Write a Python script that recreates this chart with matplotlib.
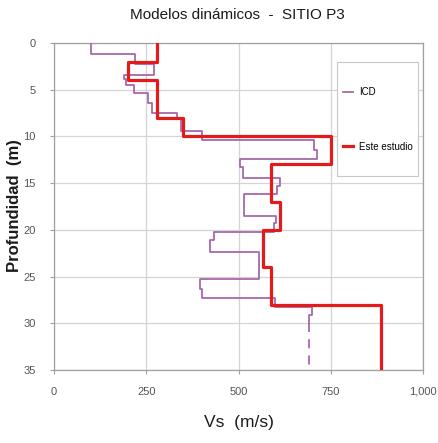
import matplotlib
matplotlib.use("Agg")
import matplotlib.pyplot as plt
from matplotlib.ticker import FuncFormatter
from matplotlib.patches import Rectangle

plt.rcParams['font.family'] = ['Liberation Sans', 'DejaVu Sans']

# ICD profile: layer boundaries (m) and Vs (m/s)
icd_depth = [0, 1.2, 2.2, 3.4, 3.9, 4.5, 5.4, 6.4, 7.5, 8.0, 9.4, 10.4, 11.5, 12.4,
             13.3, 14.4, 15.3, 16.2, 18.5, 19.3, 20.2, 21.1, 22.4, 25.3, 26.3, 27.3,
             28.3, 29.1, 30.0]
icd_vs = [100, 220, 272, 190, 196, 218, 255, 265, 333, 345, 400, 704, 712,
          504, 513, 612, 605, 515, 601, 595, 433, 424, 555, 395, 401, 600,
          698, 691]
icd_ext_depth = [30.0, 35.0]
icd_ext_vs = [691, 691]

# Este estudio profile
est_depth = [0, 2, 4, 8, 10, 13, 17, 20, 24, 28, 35]
est_vs = [280, 200, 280, 350, 750, 587, 612, 567, 587, 887]

x_ticks = [0, 250, 500, 750, 1000]
y_ticks = [0, 5, 10, 15, 20, 25, 30, 35]


def profile(depths, vs):
    xs, ys = [], []
    for i, v in enumerate(vs):
        xs += [v, v]
        ys += [depths[i], depths[i + 1]]
    return xs, ys


fig = plt.figure(figsize=(4.38, 4.43), dpi=100)
ax = fig.add_axes([0.1233, 0.1648, 0.8425, 0.7382])

purple = '#a868ac'
red = '#e31b1b'

xi, yi = profile(icd_depth, icd_vs)
ax.plot(xi, yi, color=purple, lw=1.3, label='ICD', zorder=3)
ax.plot(icd_ext_vs, icd_ext_depth, color=purple, lw=1.3, ls=(0, (5, 4)), zorder=3)

xe, ye = profile(est_depth, est_vs)
ax.plot(xe, ye, color=red, lw=2.3, label='Este estudio', zorder=4)

ax.set_xlim(0, 1000)
ax.set_ylim(35, 0)
ax.set_xticks(x_ticks)
ax.set_yticks(y_ticks)
ax.xaxis.set_major_formatter(FuncFormatter(lambda v, p: f"{int(v):,}"))
ax.grid(True, color='#d4d4d4', lw=0.9)
ax.set_axisbelow(True)
for s in ax.spines.values():
    s.set_color('#a0a0a0')
    s.set_linewidth(0.9)
ax.tick_params(axis='both', labelsize=8, colors='#555555', length=3,
               color='#a0a0a0')
ax.tick_params(axis='x', pad=9)
ax.tick_params(axis='y', pad=10)

fig.text(0.5445, 0.0474, 'Vs  (m/s)', ha='center', va='center',
         fontsize=12.5, color='#1a1a1a')
fig.text(0.034, 0.537, 'Profundidad  (m)', ha='center', va='center',
         rotation=90, fontsize=12, fontweight='bold', color='#1a1a1a')
fig.text(0.541, 0.966, 'Modelos dinámicos  -  SITIO P3', ha='center', va='center',
         fontsize=11, color='#1a1a1a')

# legend frame (white box)
box = Rectangle((0.766, 0.594), 0.220, 0.347, transform=ax.transAxes,
                facecolor='white', edgecolor='#c8c8c8', lw=0.8, zorder=5)
ax.add_patch(box)
leg = ax.legend(loc='center left', bbox_to_anchor=(0.783, 0.7665), fontsize=7,
                frameon=False, handlelength=1.0, labelspacing=4.6, borderpad=0,
                handletextpad=0.7, borderaxespad=0)
leg.set_zorder(6)

fig.savefig('out.png', dpi=100)
